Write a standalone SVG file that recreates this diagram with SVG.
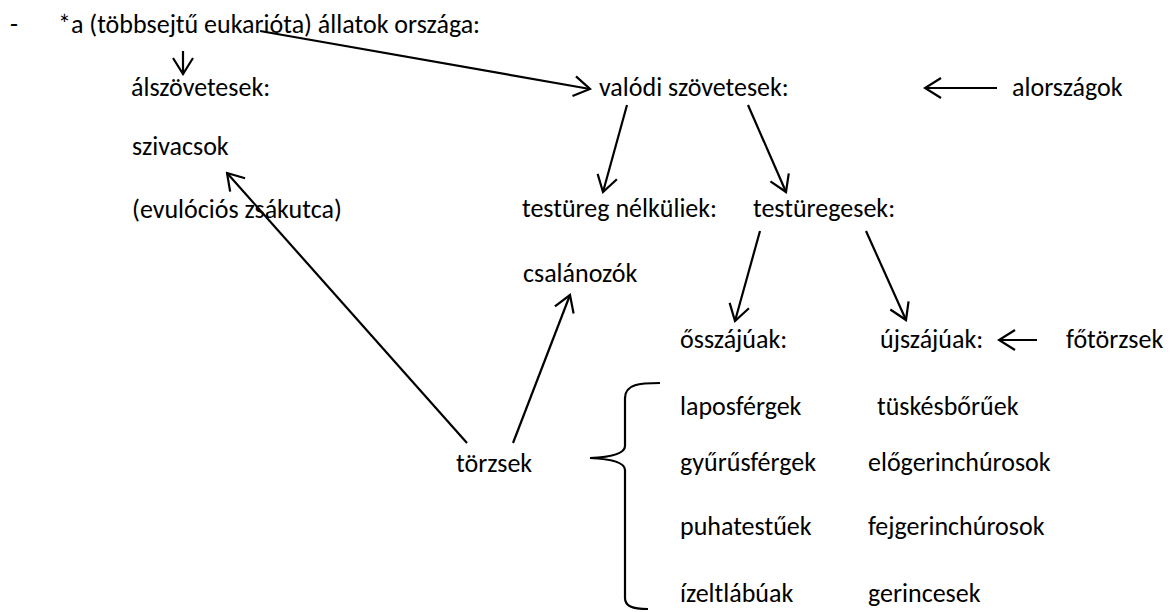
<svg xmlns="http://www.w3.org/2000/svg" width="1175" height="612" viewBox="0 0 1175 612">
<style>
text{font-family:"Carlito","Open Sans","Liberation Sans",sans-serif;font-size:26px;fill:#000}
.c{stroke:#000;stroke-width:2.2;fill:none}
</style>
<defs>
<marker id="ah" viewBox="0 0 20 24" refX="18" refY="12" markerWidth="20" markerHeight="24" orient="auto" markerUnits="userSpaceOnUse">
<path d="M2,2 L18,12 L2,22" stroke="#000" stroke-width="2.2" fill="none"/>
</marker>
</defs>
<rect width="1175" height="612" fill="#fff"/>
<g id="title"><text x="10" y="33">-</text><text x="58" y="33">*a (többsejtű eukarióta) állatok országa:</text></g>
<g id="alszovetesek"><text x="131" y="96">álszövetesek:</text></g>
<g id="valodi"><text x="599" y="96">valódi szövetesek:</text></g>
<g id="alorszagok"><text x="1012" y="96">alországok</text></g>
<g id="szivacsok"><text x="132" y="155">szivacsok</text></g>
<g id="evulocios"><text x="132" y="218">(evulóciós zsákutca)</text></g>
<g id="testureg-nelkuliek"><text x="522" y="217">testüreg nélküliek:</text></g>
<g id="testuregesek"><text x="753" y="217">testüregesek:</text></g>
<g id="csalanozok"><text x="523" y="282">csalánozók</text></g>
<g id="osszajuak"><text x="680" y="348">ősszájúak:</text></g>
<g id="ujszajuak"><text x="880" y="348">újszájúak:</text></g>
<g id="fotorzsek"><text x="1066" y="348">főtörzsek</text></g>
<g id="torzsek"><text x="456" y="472">törzsek</text></g>
<g id="col1">
<text x="680" y="415">laposférgek</text>
<text x="680" y="471">gyűrűsférgek</text>
<text x="680" y="535">puhatestűek</text>
<text x="680" y="602">ízeltlábúak</text>
</g>
<g id="col2">
<text x="877" y="415">tüskésbőrűek</text>
<text x="868" y="471">előgerinchúrosok</text>
<text x="868" y="535">fejgerinchúrosok</text>
<text x="868" y="602">gerincesek</text>
</g>
<g id="brace"><path class="c" d="M660,383 C640,383 625,384 625,398 L625,446 C625,453 612,457 590,458 C612,459 625,463 625,470 L625,598 C625,606 632,609 648,609"/></g>
<g id="connectors" class="c">
<line x1="183" y1="51" x2="183" y2="74" marker-end="url(#ah)"/>
<line x1="260" y1="31" x2="590" y2="89" marker-end="url(#ah)"/>
<line x1="997" y1="88" x2="925" y2="88" marker-end="url(#ah)"/>
<line x1="627" y1="105" x2="603" y2="192" marker-end="url(#ah)"/>
<line x1="748" y1="105" x2="786" y2="192" marker-end="url(#ah)"/>
<line x1="760" y1="231" x2="735" y2="321" marker-end="url(#ah)"/>
<line x1="866" y1="231" x2="906" y2="320" marker-end="url(#ah)"/>
<line x1="1037" y1="340" x2="999" y2="340" marker-end="url(#ah)"/>
<line x1="467" y1="443" x2="227" y2="173" marker-end="url(#ah)"/>
<line x1="513" y1="443" x2="570" y2="295" marker-end="url(#ah)"/>
</g>
</svg>
